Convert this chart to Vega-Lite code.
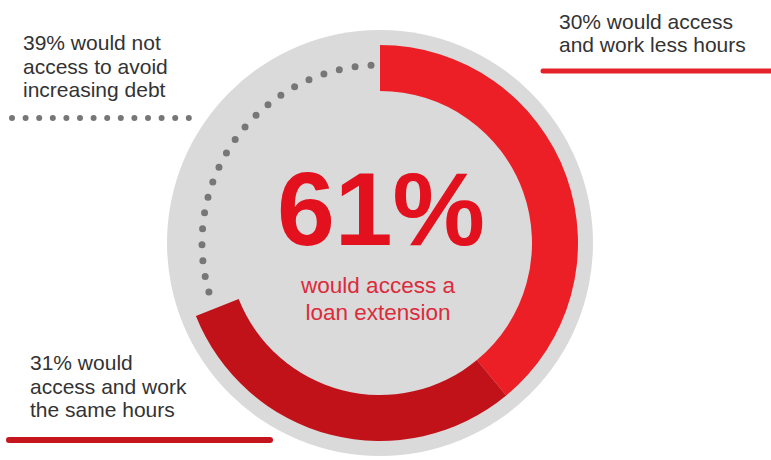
{
  "$schema": "https://vega.github.io/schema/vega-lite/v6.json",
  "width": 760,
  "height": 422,
  "autosize": {"type": "none"},
  "padding": {"left": 0, "top": 32, "right": 11, "bottom": 6},
  "background": "white",
  "config": {"view": {"stroke": null}, "text": {"font": "Liberation Sans"}},
  "data": {"values": [
    {"segment": "access and work less hours", "share": 39, "order": 1},
    {"segment": "access and work the same hours", "share": 30, "order": 2},
    {"segment": "would not access", "share": 31, "order": 3}
  ]},
  "layer": [
    {
      "data": {"values": [{"shape": "disc"}]},
      "mark": {"type": "arc", "theta": 0, "theta2": 6.2832, "outerRadius": 213, "innerRadius": 0, "fill": "#dadada"},
      "encoding": {}
    },
    {
      "transform": [
        {"stack": "share", "groupby": [], "sort": [{"field": "order", "order": "ascending"}], "as": ["s0", "s1"]},
        {"filter": "datum.order < 3"}
      ],
      "mark": {"type": "arc", "outerRadius": 198, "innerRadius": 152},
      "encoding": {
        "theta": {"field": "s0", "type": "quantitative", "stack": null, "scale": {"domain": [0, 100]}},
        "theta2": {"field": "s1"},
        "color": {"field": "segment", "type": "nominal", "legend": null,
          "scale": {"domain": ["access and work less hours", "access and work the same hours"], "range": ["#ec1f27", "#c1121a"]}}
      }
    },
    {
      "transform": [
        {"stack": "share", "groupby": [], "sort": [{"field": "order", "order": "ascending"}], "as": ["s0", "s1"]},
        {"filter": "datum.order == 3"}
      ],
      "mark": {"type": "arc", "outerRadius": 178, "innerRadius": 178, "filled": false, "stroke": "#777777", "strokeWidth": 7, "strokeCap": "round",
        "strokeDash": [0,16,0,16,0,16,0,16,0,16,0,16,0,16,0,16,0,16,0,16,0,16,0,16,0,16,0,16,0,16,0,16,0,16,0,16,0,16,0,16,0,1000],
        "strokeDashOffset": -17.4},
      "encoding": {
        "theta": {"field": "s0", "type": "quantitative", "stack": null, "scale": {"domain": [0, 100]}},
        "theta2": {"field": "s1"}
      }
    },
    {
      "data": {"values": [{"decor": "dotted leader"}]},
      "mark": {"type": "rule", "stroke": "#777777", "strokeWidth": 6, "strokeCap": "round", "strokeDash": [0, 13.6]},
      "encoding": {"x": {"value": 12}, "x2": {"value": 190}, "y": {"value": 86}}
    },
    {
      "data": {"values": [{"decor": "top underline"}]},
      "mark": {"type": "rule", "stroke": "#e42229", "strokeWidth": 5, "strokeCap": "round"},
      "encoding": {"x": {"value": 543}, "x2": {"value": 775}, "y": {"value": 39}}
    },
    {
      "data": {"values": [{"decor": "bottom underline"}]},
      "mark": {"type": "rule", "stroke": "#c5161d", "strokeWidth": 6, "strokeCap": "round"},
      "encoding": {"x": {"value": 9}, "x2": {"value": 270}, "y": {"value": 408}}
    },
    {
      "data": {"values": [{"note": "not access"}]},
      "mark": {"type": "text", "x": 23, "y": 18, "align": "left", "baseline": "alphabetic", "fontSize": 21, "lineHeight": 23.5, "fill": "#333333",
        "text": ["39% would not", "access to avoid", "increasing debt"]},
      "encoding": {}
    },
    {
      "data": {"values": [{"note": "less hours"}]},
      "mark": {"type": "text", "x": 559, "y": -3, "align": "left", "baseline": "alphabetic", "fontSize": 21, "lineHeight": 23, "fill": "#333333",
        "text": ["30% would access", "and work less hours"]},
      "encoding": {}
    },
    {
      "data": {"values": [{"note": "same hours"}]},
      "mark": {"type": "text", "x": 30, "y": 338, "align": "left", "baseline": "alphabetic", "fontSize": 21, "lineHeight": 23.5, "fill": "#333333",
        "text": ["31% would", "access and work", "the same hours"]},
      "encoding": {}
    },
    {
      "data": {"values": [{"note": "headline"}]},
      "mark": {"type": "text", "x": 381, "y": 213, "align": "center", "baseline": "alphabetic", "fontSize": 104, "fontWeight": "bold", "fill": "#e3101e",
        "text": "61%"},
      "encoding": {}
    },
    {
      "data": {"values": [{"note": "subhead"}]},
      "mark": {"type": "text", "x": 378, "y": 261, "align": "center", "baseline": "alphabetic", "fontSize": 22.5, "lineHeight": 27, "fill": "#dc2b3b",
        "text": ["would access a", "loan extension"]},
      "encoding": {}
    }
  ]
}
